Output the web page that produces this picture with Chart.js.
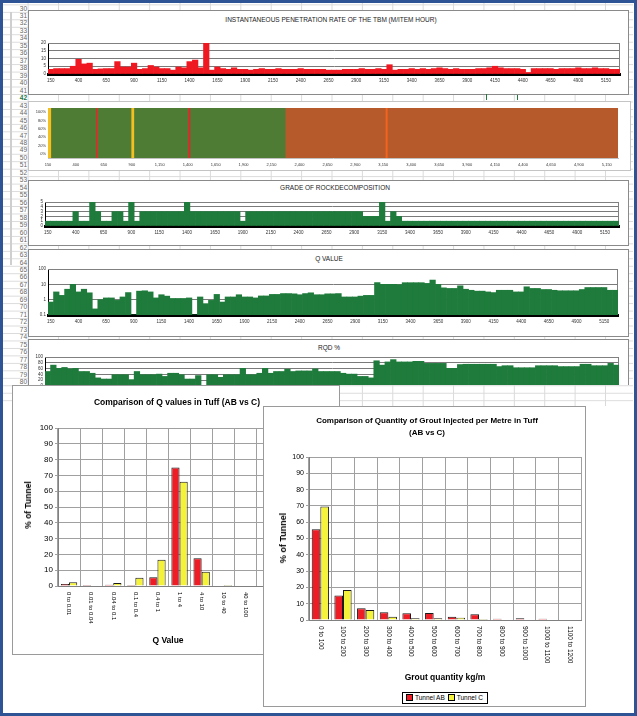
<!DOCTYPE html>
<html><head><meta charset="utf-8">
<script src="https://cdn.jsdelivr.net/npm/chart.js@4.4.1/dist/chart.umd.min.js"></script>
<style>
html,body{margin:0;padding:0;background:#fff;}
body{width:637px;height:716px;position:relative;overflow:hidden;font-family:"Liberation Sans",Arial,sans-serif;}
#sheet{position:absolute;left:3px;top:3px;width:630px;height:403px;background-color:#fff;
 background-image:linear-gradient(to right,#dadada 1px,transparent 1px),linear-gradient(to bottom,#dadada 1px,transparent 1px);
 background-size:30.4px 7.47px;background-position:24.6px 1.4px;}
.rn{position:absolute;left:3px;width:24px;text-align:right;font-size:6.5px;color:#666;line-height:7.47px;height:7.47px;}
#strips{position:absolute;left:0;top:0;width:637px;height:385px;overflow:hidden;}
.box{position:absolute;background:#fff;border:1px solid #8a8a8a;box-sizing:border-box;}
.ctr{position:absolute;transform:translate(-50%,-50%);white-space:nowrap;}
.st{font-size:6.5px;color:#222;}
.bt{font-weight:bold;color:#000;}
canvas{position:absolute;}
#frame{position:absolute;left:0;top:0;width:637px;height:716px;box-sizing:border-box;border:3px solid #2f5496;pointer-events:none;}
.leg{position:absolute;left:402px;top:692px;width:86px;height:12px;box-sizing:border-box;border:1px solid #000;background:#fff;font-size:6.5px;line-height:10px;white-space:nowrap;}
.sw{display:inline-block;width:5px;height:5px;border:1px solid #000;margin:0 2px 0 3px;vertical-align:-1px;}
</style></head>
<body>
<div id="sheet"></div>
<div id="rows"></div>
<div style="position:absolute;left:10px;top:12px;width:2px;height:253px;background:#cfcfcf"></div>

<div id="strips">
 <div class="box" style="left:28px;top:10px;width:601px;height:85px"></div>
 <div class="ctr st" style="left:331px;top:19px">INSTANTANEOUS PENETRATION RATE OF THE TBM (M/ITEM HOUR)</div>
 <canvas id="cPen" width="601" height="85" style="left:28px;top:10px"></canvas>

 <div class="box" style="left:28px;top:101px;width:603px;height:70px;border-color:#c4c4c4"></div>
 <canvas id="cBand" width="601" height="71" style="left:28px;top:100px"></canvas>

 <div class="box" style="left:28px;top:180px;width:601px;height:66px"></div>
 <div class="ctr st" style="left:335px;top:187px">GRADE OF ROCKDECOMPOSITION</div>
 <canvas id="cGrade" width="601" height="66" style="left:28px;top:180px"></canvas>

 <div class="box" style="left:28px;top:249px;width:601px;height:88px"></div>
 <div class="ctr st" style="left:329px;top:258px">Q VALUE</div>
 <canvas id="cQ" width="601" height="88" style="left:28px;top:249px"></canvas>

 <div class="box" style="left:28px;top:339px;width:601px;height:70px"></div>
 <div class="ctr st" style="left:329px;top:347px">RQD %</div>
 <canvas id="cRqd" width="601" height="70" style="left:28px;top:339px"></canvas>
</div>
<div style="position:absolute;left:486px;top:94px;width:1px;height:6px;background:#1e7b3b"></div>
<div style="position:absolute;left:517px;top:95px;width:1px;height:5px;background:#1e7b3b"></div>

<div class="box" style="left:12px;top:385px;width:328px;height:270px;border-color:#9a9a9a"></div>
<canvas id="cLeft" width="328" height="270" style="left:12px;top:385px"></canvas>
<div class="ctr bt" style="left:177px;top:402px;font-size:8.5px">Comparison of Q values in Tuff (AB vs C)</div>
<div class="ctr bt" style="left:28px;top:505px;font-size:8.5px;transform:translate(-50%,-50%) rotate(-90deg)">% of Tunnel</div>
<div class="ctr bt" style="left:168px;top:640px;font-size:8.5px">Q Value</div>

<div class="box" style="left:263px;top:406px;width:323px;height:301px;border-color:#9a9a9a"></div>
<canvas id="cRight" width="323" height="301" style="left:263px;top:406px"></canvas>
<div class="ctr bt" style="left:427px;top:420px;font-size:8px">Comparison of Quantity of Grout Injected per Metre in Tuff</div>
<div class="ctr bt" style="left:427px;top:432px;font-size:8px">(AB vs C)</div>
<div class="ctr bt" style="left:283px;top:538px;font-size:9px;transform:translate(-50%,-50%) rotate(-90deg)">% of Tunnel</div>
<div class="ctr bt" style="left:445px;top:677px;font-size:8.5px">Grout quantity kg/m</div>
<div class="leg"><span class="sw" style="background:#ee1c24"></span>Tunnel AB<span class="sw" style="background:#f5f23c"></span>Tunnel C</div>

<div id="frame"></div>

<script>
// ---------- DATA ----------
const chainage = [150,200,250,300,350,400,450,500,550,600,650,700,750,800,850,900,950,1000,1050,1100,1150,1200,1250,1300,1350,1400,1450,1500,1550,1600,1650,1700,1750,1800,1850,1900,1950,2000,2050,2100,2150,2200,2250,2300,2350,2400,2450,2500,2550,2600,2650,2700,2750,2800,2850,2900,2950,3000,3050,3100,3150,3200,3250,3300,3350,3400,3450,3500,3550,3600,3650,3700,3750,3800,3850,3900,3950,4000,4050,4100,4150,4200,4250,4300,4350,4400,4450,4500,4550,4600,4650,4700,4750,4800,4850,4900,4950,5000,5050,5100,5150,5200,5250];
const chainageTicks = [150,400,650,900,1150,1400,1650,1900,2150,2400,2650,2900,3150,3400,3650,3900,4150,4400,4650,4900,5150];

const penetration = [3,3.5,3.5,3.5,5,9.5,6.5,7,3,3.3, 3.5,3.5,8,4.5,4.5,7,3,3.5,5.5,4.5, 3.5,3.5,2.5,4.5,4,8,9,4,20,2.5,
 4.5,3.5,3,4,3,3,2.5,3,3.5,3, 3,3.5,3,3,3,3.5,3,3,3,3, 2.5,2.5, 2.5,3,3,3,3.5,3,3,3.5,
 3,6,2.5,3,3,3.5,3,3.5,3,3.5, 4,3.5,3,3.5,3,3,3,3.5,3.5,4, 5,4,3.5,3.5,3.5,3,1,3.5,3.5,3.5,
 3.5,3,3.5,3.5,3.5,4,3.5,3.5,4,3.5, 3.5,3,3];
const penTicks = [0,5,10,15,20];

const bandFrom = [150,175,578,592,893,918,1403,1420,2272,3168,3186];
const bandTo   = [175,578,592,893,918,1403,1420,2272,3168,3186,5250];
const bandKind = ['yellow','green','red','green','yellow','green','red','green','brown','orange','brown'];
const bandPctTicks = [0,20,40,60,80,100];

const grade = [1,1,1,1,1,3,1,1,5,3, 1,1,3,3,1,5,1,3,3,3, 3,3,3,3,3,5,3,3,3,3, 3,3,3,3,3,1,3,3,3,3,
 3,3,3,3,3,3,3,3,3,3, 3,3,3,3,3,3,3,2,2,2, 5,1,3,2,1,1,1,1,1,1,
 1,1,1,1,1,1,1,1,1,1, 1,1,1,1,1,1,1,1,1,1, 1,1,1,1,1,1,1,1,1,1, 1,1,1];
const gradeTicks = [0,1,2,3,4,5];

const qValue = [0.7,3.2,1.9,4.8,10,3.2,4.8,2.8,0.25,1, 1.3,1.3,0.9,1.5,2.9,0.1,3.6,3.8,3.2,1.3,
 2.1,1.7,1.2,1.2,1.2,1.3,0.1,1.5,0.55,0.9, 2.2,0.7,1.5,1.5,2.1,1.5,1.5,1.3,1.75,1.75,
 2.2,2.2,2.5,2.5,2.4,2.1,2.5,2.8,2.1,2.1, 2.4,2.4, 2.5,1.5,1.5,1.5,1.7,1.9,1.9,13,
 10,10,10,9.5,12.8,12.8,12.8,12.8,11.5,19, 10,5.9,5.4,5.4,8,4.8,4.1,3.6,3.6,3.2,
 2.9,4.1,4.1,4.1,3.2,3.2,6.9,5.4,5.4,4.6, 4.6,4.1,3.8,3.8,3.8,3.8,4.6,6.2,6.2,6.2, 6.2,4.1,4.1];
const qTicks = [0.1,1,10,100];

const rqd = [50,72,61,64,59,61,50,50,44,28, 24,24,39,39,39,22,50,39,39,39, 41,33,44,44,39,24,24,36,0,39,
 39,30,39,39,39,61,39,39,44,61, 44,50,50,58,50,52,52,52,59,50, 50,50, 50,44,41,41,33,33,28,87,
 72,83,91,83,83,83,85,85,78,78, 78,78,61,61,74,75,75,75,75,75, 75,67,70,70,63,63,63,63,70,70,
 70,70,67,67,67,67,75,75,70,70, 70,78,72];
const rqdTicks = [0,20,40,60,80,100];

const qClasses = ["0 to 0.01","0.01 to 0.04","0.04 to 0.1","0.1 to 0.4","0.4 to 1","1 to 4","4 to 10","10 to 40","40 to 100","100 to 400"];
const qTunnelAB = [1.3,0.6,0.8,0.6,5.5,75,17.5,0,0,0];
const qTunnelC  = [2.3,0,1.9,5.3,16.6,66,9,0.6,0,0];

const groutClasses = ["0 to 100","100 to 200","200 to 300","300 to 400","400 to 500","500 to 600","600 to 700","700 to 800","800 to 900","900 to 1000","1000 to 1100","1100 to 1200"];
const groutTunnelAB = [55.7,15,7.2,4.7,4.1,4.3,2,3.5,0.8,1,0.8,0];
const groutTunnelC  = [69.7,18.4,6.1,2,1,1,1.4,0.6,0,0,0,0];
const percentTicks = [0,10,20,30,40,50,60,70,80,90,100];

// ---------- STYLE ----------
const FAM = '"Liberation Sans", Arial, sans-serif';
const C = {pen:'#f01820', strip:'#1e7b3b', green:'#4f7c34', brown:'#b65a2b', red:'#e8232a', yellow:'#f4bf1f', orange:'#f0641e', ab:'#ee1c24', c:'#f5f23c'};

// rows header (decoration)
(function(){
  const host = document.getElementById('rows');
  for (let n = 30; n <= 81; n++) {
    const d = document.createElement('div');
    d.className = 'rn';
    d.style.top = (15.7 + (n - 31) * 7.47 - 3.7) + 'px';
    d.textContent = n;
    if (n === 42) { d.style.color = '#217346'; d.style.fontWeight = 'bold'; }
    host.appendChild(d);
  }
})();

const plotFrame = {
  id: 'plotFrame',
  beforeDatasetsDraw(chart, args, o) {
    if (!o || !o.color) return;
    const a = chart.chartArea, ctx = chart.ctx;
    ctx.save(); ctx.strokeStyle = o.color; ctx.lineWidth = 1;
    ctx.beginPath();
    ctx.moveTo(a.left, Math.round(a.top) + 0.5);
    ctx.lineTo(Math.round(a.right) - 0.5, Math.round(a.top) + 0.5);
    ctx.lineTo(Math.round(a.right) - 0.5, a.bottom);
    ctx.stroke(); ctx.restore();
  }
};

const cwLabels = {
  id: 'cwLabels',
  afterDraw(chart, args, o) {
    if (!o || !o.size) return;
    const s = chart.scales.x, ctx = chart.ctx;
    ctx.save();
    ctx.font = o.size + 'px ' + FAM;
    ctx.fillStyle = '#000'; ctx.textAlign = 'left'; ctx.textBaseline = 'middle';
    chart.data.labels.forEach((l, i) => {
      const x = s.getPixelForValue(i);
      ctx.save(); ctx.translate(x, s.top + o.gap); ctx.rotate(Math.PI / 2);
      ctx.fillText(l, 0, 0); ctx.restore();
    });
    ctx.restore();
  }
};

Chart.defaults.font.family = FAM;
Chart.defaults.animation = false;

function fixedTicks(arr) { return s => { s.ticks = arr.map(v => ({ value: v })); }; }
const tinyTicks = { padding: 2, color: '#333', font: { size: 4.5 }, autoSkip: false };

function strip(id, values, color, yScale, g) {
  return new Chart(document.getElementById(id), {
    type: 'bar',
    data: { labels: chainage, datasets: [{ data: values, backgroundColor: color, borderWidth: 0, barPercentage: 1, categoryPercentage: 1 }] },
    plugins: [plotFrame],
    options: {
      responsive: false, animation: false, events: [],
      layout: { padding: { left: 0, right: g.padR, top: g.padT, bottom: 0 } },
      plugins: { legend: { display: false }, tooltip: { enabled: false }, plotFrame: { color: '#808080' } },
      scales: {
        x: {
          type: 'category', offset: true,
          grid: { display: false, drawTicks: false },
          border: { color: '#000', width: g.bw },
          ticks: { autoSkip: false, maxRotation: 0, minRotation: 0, padding: 4, color: '#333', font: { size: 4.5 },
            callback: (v, i) => chainageTicks.includes(chainage[i]) ? String(chainage[i]) : '' },
          afterFit: s => { s.height = g.xH; }
        },
        y: Object.assign({
          grid: { color: '#7a7a7a', drawTicks: false },
          border: { color: '#000', width: 1 },
          ticks: tinyTicks,
          afterFit: s => { s.width = g.yW; }
        }, yScale)
      }
    }
  });
}

strip('cPen', penetration, C.pen, { min: 0, max: 20, afterBuildTicks: fixedTicks(penTicks) }, { yW: 20, padR: 9, padT: 33, xH: 21, bw: 3 });
strip('cGrade', grade, C.strip, { min: 0, max: 5, afterBuildTicks: fixedTicks(gradeTicks) }, { yW: 17, padR: 10, padT: 22, xH: 20, bw: 3 });
strip('cQ', qValue, C.strip, { type: 'logarithmic', min: 0.1, max: 100, afterBuildTicks: fixedTicks(qTicks),
  ticks: Object.assign({}, tinyTicks, { callback: v => String(v) }) }, { yW: 20, padR: 11, padT: 20, xH: 22, bw: 3 });
strip('cRqd', rqd, C.strip, { min: 0, max: 100, afterBuildTicks: fixedTicks(rqdTicks) }, { yW: 17, padR: 10, padT: 18, xH: 23, bw: 2 });

// band chart (100% stacked bands by chainage)
new Chart(document.getElementById('cBand'), {
  type: 'bar',
  data: {
    labels: ['band'],
    datasets: bandFrom.map((f, k) => ({
      data: [[f, bandTo[k]]], backgroundColor: C[bandKind[k]], borderWidth: 0,
      grouped: false, barPercentage: 1, categoryPercentage: 1, yAxisID: 'y'
    }))
  },
  options: {
    indexAxis: 'y', responsive: false, animation: false, events: [],
    layout: { padding: { left: 0, right: 11, top: 8, bottom: 0 } },
    plugins: { legend: { display: false }, tooltip: { enabled: false } },
    scales: {
      x: { type: 'linear', min: 150, max: 5250, afterBuildTicks: fixedTicks(chainageTicks),
        grid: { display: false, drawTicks: false }, border: { color: '#c0c0c0' },
        ticks: { autoSkip: false, maxRotation: 0, minRotation: 0, padding: 4, color: '#333', font: { size: 4 }, callback: v => v.toLocaleString('en-US') },
        afterFit: s => { s.height = 13; } },
      y: { type: 'category', display: false },
      pct: { axis: 'y', type: 'linear', position: 'left', min: 0, max: 100, afterBuildTicks: fixedTicks(bandPctTicks),
        grid: { display: false, drawTicks: false }, border: { color: '#c0c0c0' },
        ticks: Object.assign({}, tinyTicks, { font: { size: 4 }, callback: v => v + '%' }),
        afterFit: s => { s.width = 20; } }
    }
  }
});

function comparison(id, labels, ab, cc, g) {
  return new Chart(document.getElementById(id), {
    type: 'bar',
    data: { labels: labels, datasets: [
      { label: 'Tunnel AB', data: ab, backgroundColor: C.ab, borderColor: '#1a1a1a', borderWidth: 1, barPercentage: 1, categoryPercentage: g.cat },
      { label: 'Tunnel C', data: cc, backgroundColor: C.c, borderColor: '#1a1a1a', borderWidth: 1, barPercentage: 1, categoryPercentage: g.cat }
    ] },
    plugins: [cwLabels],
    options: {
      responsive: false, animation: false, events: [],
      layout: { padding: { left: 0, right: g.padR, top: g.padT, bottom: 0 } },
      plugins: { legend: { display: false }, tooltip: { enabled: false }, cwLabels: { size: g.catFont, gap: 6 } },
      scales: {
        x: { offset: true, grid: { color: '#a0a0a0', offset: true, drawTicks: false }, border: { color: '#808080' },
          ticks: { display: false }, afterFit: s => { s.height = g.xH; } },
        y: { min: 0, max: 100, afterBuildTicks: fixedTicks(percentTicks),
          grid: { color: '#a0a0a0', tickLength: 3 }, border: { color: '#808080' },
          ticks: { padding: 2, color: '#000', font: { size: g.tickFont }, autoSkip: false },
          afterFit: s => { s.width = g.yW; } }
      }
    }
  });
}

comparison('cLeft', qClasses, qTunnelAB, qTunnelC, { yW: 46, padR: 61, padT: 43, xH: 69, cat: 0.74, catFont: 6, tickFont: 8 });
comparison('cRight', groutClasses, groutTunnelAB, groutTunnelC, { yW: 46, padR: 5, padT: 51, xH: 87, cat: 0.76, catFont: 6.5, tickFont: 7 });
</script>
</body></html>
